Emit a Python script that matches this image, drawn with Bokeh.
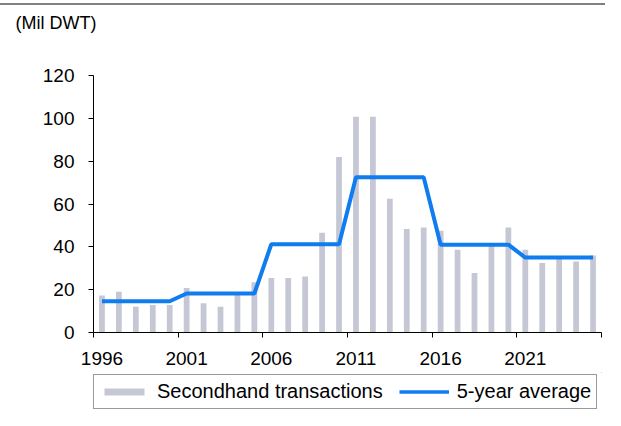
from bokeh.plotting import figure
from bokeh.models import FixedTicker, Legend, LegendItem, Div
from bokeh.layouts import column
from bokeh.embed import file_html
from bokeh.resources import INLINE

# ---- data ----
years = list(range(1996, 2026))
secondhand = [17.3, 19.0, 12.0, 12.8, 12.8,
              20.8, 13.6, 12.0, 17.9, 23.5,
              25.4, 25.4, 26.2, 46.6, 82.0,
              100.7, 100.7, 62.5, 48.3, 49.0,
              47.5, 38.6, 27.8, 41.3, 49.0,
              38.6, 32.4, 35.2, 33.2, 36.0]
five_year_avg = [14.6, 14.6, 14.6, 14.6, 14.6,
                 18.2, 18.2, 18.2, 18.2, 18.2,
                 41.2, 41.2, 41.2, 41.2, 41.2,
                 72.5, 72.5, 72.5, 72.5, 72.5,
                 41.0, 41.0, 41.0, 41.0, 41.0,
                 35.0, 35.0, 35.0, 35.0, 35.0]
x_label_years = [1996, 2001, 2006, 2011, 2016, 2021]
x_boundaries = [1995.5, 2000.5, 2005.5, 2010.5, 2015.5, 2020.5, 2025.5]
y_ticks = [0, 20, 40, 60, 80, 100, 120]
series_names = ["Secondhand transactions", "5-year average"]
unit_label = "(Mil DWT)"

FONT = "Liberation Sans"
BAR_COLOR = "#c5c7d4"
LINE_COLOR = "#0f7df0"

top_rule = Div(text="", width=605, height=10, margin=(0, 0, 0, 0),
               styles={"background": "linear-gradient(to bottom, #ffffff 0px, #ffffff 3px, "
                                     "#808080 3px, #808080 5px, #ffffff 5px, #ffffff 10px)"})

# ---------------- header strip with the unit label ----------------
hd = figure(width=605, height=32, output_backend="svg", toolbar_location=None,
            x_range=(0, 1), y_range=(0, 1), title=unit_label,
            min_border_left=0, min_border_right=0,
            min_border_top=0, min_border_bottom=0,
            x_axis_location=None, y_axis_location=None)
hd.outline_line_color = None
hd.grid.grid_line_color = None
hd.border_fill_color = "white"
hd.title.text_font = FONT
hd.title.text_font_size = "18px"
hd.title.text_font_style = "normal"
hd.title.text_color = "black"
hd.title.align = "left"
hd.title.offset = -78
hd.title.standoff = 0

# ---------------- main chart ----------------
p = figure(width=605, height=330, output_backend="svg", toolbar_location=None,
           x_range=(1995.5, 2025.5), y_range=(0, 120),
           min_border_left=93, min_border_right=4,
           min_border_top=33, min_border_bottom=40)
p.outline_line_color = None
p.grid.grid_line_color = None
p.background_fill_color = "white"
p.border_fill_color = "white"

p.vbar(x=years, top=secondhand, width=0.34, fill_color=BAR_COLOR, line_color=None)
p.line(x=years, y=five_year_avg, line_color=LINE_COLOR, line_width=4)

xa = p.xaxis[0]
xa.ticker = FixedTicker(ticks=x_label_years, minor_ticks=x_boundaries)
xa.major_tick_line_color = None
xa.major_tick_out = 0
xa.major_tick_in = 0
xa.minor_tick_out = 5
xa.minor_tick_in = 0
xa.minor_tick_line_color = "black"
xa.axis_line_color = "black"
xa.major_label_standoff = 14
xa.major_label_text_font = FONT
xa.major_label_text_font_size = "19px"
xa.major_label_text_color = "black"

ya = p.yaxis[0]
ya.ticker = FixedTicker(ticks=y_ticks, minor_ticks=[])
ya.major_tick_out = 5
ya.major_tick_in = 0
ya.minor_tick_line_color = None
ya.major_tick_line_color = "black"
ya.axis_line_color = "black"
ya.major_label_standoff = 14
ya.major_label_text_font = FONT
ya.major_label_text_font_size = "19px"
ya.major_label_text_color = "black"

# ---------------- legend strip (frame aligned with the chart's frame) ----------------
# The key renderers hold the same series but lie outside this strip's ranges,
# so only their legend swatches are visible.
lg = figure(width=605, height=38, output_backend="svg", toolbar_location=None,
            x_range=(0, 1), y_range=(-1000, -999),
            min_border_left=0, min_border_right=0,
            min_border_top=0, min_border_bottom=0,
            x_axis_location=None, y_axis_location=None)
lg.outline_line_color = None
lg.grid.grid_line_color = None
lg.background_fill_color = "white"
lg.border_fill_color = "white"

key_bar = lg.vbar(x=years, top=secondhand, width=0.34, fill_color=BAR_COLOR, line_color=None)
key_line = lg.line(x=years, y=five_year_avg, line_color=LINE_COLOR, line_width=3.5)

legend = Legend(items=[LegendItem(label=series_names[0], renderers=[key_bar]),
                       LegendItem(label=series_names[1], renderers=[key_line])],
                location=(0, 1), orientation="horizontal",
                glyph_width=50, glyph_height=9, label_standoff=8, spacing=16,
                padding=5, margin=0, label_height=20,
                border_line_color="#333333", border_line_width=1,
                background_fill_color="white", background_fill_alpha=1.0,
                label_text_font=FONT, label_text_font_size="20px",
                label_text_color="black")
lg.add_layout(legend)

layout = column(top_rule, hd, p, lg, spacing=0)
open("out.html", "w").write(file_html(layout, INLINE))
